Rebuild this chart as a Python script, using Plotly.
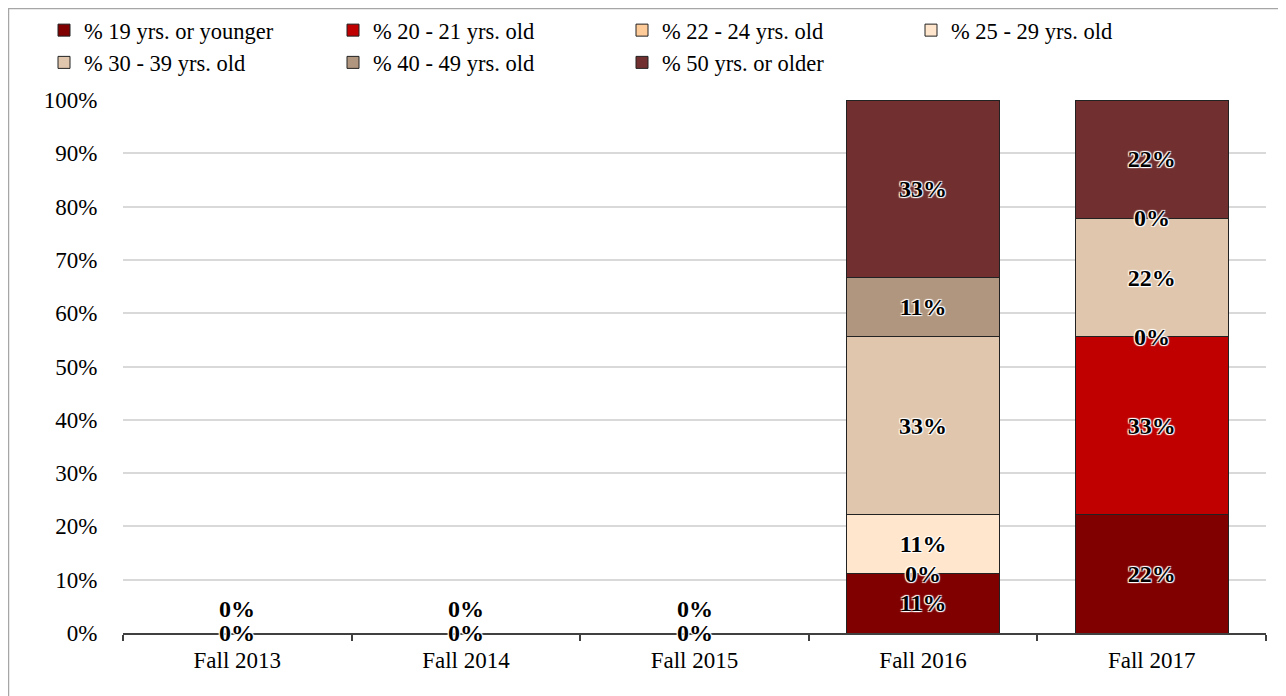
import plotly.graph_objects as go

categories = ["Fall 2013", "Fall 2014", "Fall 2015", "Fall 2016", "Fall 2017"]
series_names = ["% 19 yrs. or younger", "% 20 - 21 yrs. old", "% 22 - 24 yrs. old",
                "% 25 - 29 yrs. old", "% 30 - 39 yrs. old", "% 40 - 49 yrs. old",
                "% 50 yrs. or older"]
colors = ["#800000", "#C00000", "#FFCC99", "#FFE6CC", "#E0C6AC", "#B0967E", "#722F2F"]

# values (fractions); None = blank cell
s19 = [0.0, 0.0, 0.0, 1/9, 2/9]
s20 = [0.0, 0.0, 0.0, 0.0, 3/9]
s22 = [None, None, None, None, None]
s25 = [None, None, None, 1/9, 0.0]
s30 = [None, None, None, 3/9, 2/9]
s40 = [None, None, None, 1/9, 0.0]
s50 = [None, None, None, 3/9, 2/9]
all_series = [s19, s20, s22, s25, s30, s40, s50]

FONT = "Liberation Serif"
shadow = "1px 1px 1px white, -1px -1px 1px white, 1px -1px 1px white, -1px 1px 1px white"
LBL = 24
AX = 23

# page body has an 8px margin; layout numbers below are in figure pixels
L, T, R, B = 115, 92, 28, 71
PW, PH = 1286 - L - R, 696 - T - B

fig = go.Figure()
annotations = []
cum = [0.0] * len(categories)
for name, col, vals in zip(series_names, colors, all_series):
    ys = [v if v is not None else 0 for v in vals]
    texts = [f"{round(v*100)}%" if (v is not None and v > 0) else "" for v in vals]
    fig.add_trace(go.Bar(
        x=categories, y=ys, name=name,
        marker=dict(color=col, line=dict(color="#222222", width=1)),
        text=texts, textposition="inside", insidetextanchor="middle", textangle=0,
        textfont=dict(family=FONT, size=LBL, color="black", weight="bold", shadow=shadow),
        hoverinfo="skip",
    ))
    for i, v in enumerate(vals):
        if v is not None and v == 0:
            annotations.append(dict(
                x=categories[i], y=cum[i], xref="x", yref="y", text="0%", showarrow=False,
                font=dict(family=FONT, size=LBL, color="black", weight="bold", shadow=shadow),
                yshift=0,
            ))
        cum[i] += ys[i]

# labels of zero segments sitting at the same spot: the base ones are stacked upward
final_ann = []
seen = {}
for a in annotations:
    key = (a["x"], round(a["y"], 6))
    n = seen.get(key, 0)
    seen[key] = n + 1
    if n == 0:
        final_ann.append(a)
    elif n == 1 and a["y"] == 0:
        a["yshift"] = 24
        final_ann.append(a)

fig.update_layout(
    width=1286, height=696,
    barmode="stack", bargap=0.33,
    paper_bgcolor="white", plot_bgcolor="white",
    margin=dict(l=L, r=R, t=T, b=B, autoexpand=False),
    font=dict(family=FONT, size=AX, color="black"),
    legend=dict(orientation="h", x=(36 - L)/PW, y=(PH + T - 1)/PH, xref="paper", yref="paper",
                xanchor="left", yanchor="top", bgcolor="rgba(0,0,0,0)",
                entrywidth=244, entrywidthmode="pixels", traceorder="normal",
                font=dict(family=FONT, size=22.5, color="black"),
                itemwidth=30, tracegroupgap=0),
    annotations=final_ann,
    shapes=[dict(type="rect", xref="paper", yref="paper",
                 x0=(0.5 - L)/PW, x1=(1276 - L)/PW, y0=-(B + 10)/PH, y1=(PH + T - 0.5)/PH,
                 line=dict(color="#A6A6A6", width=1.5), fillcolor="rgba(0,0,0,0)", layer="below")],
    showlegend=True,
)
fig.update_yaxes(range=[0, 1], dtick=0.1, tickformat=".0%", showgrid=True, gridcolor="#D9D9D9",
                 gridwidth=1.5, zeroline=False, showline=False, ticks="outside", ticklen=20,
                 tickcolor="rgba(0,0,0,0)", tickfont=dict(family=FONT, size=AX, color="black"))
fig.update_xaxes(showline=True, linecolor="#404040", linewidth=1.5, ticks="outside",
                 tickson="boundaries", ticklen=6, tickcolor="#404040", tickwidth=1.5,
                 ticklabelstandoff=6,
                 showgrid=False, tickfont=dict(family=FONT, size=AX, color="black"))

fig.write_html("out.html")
